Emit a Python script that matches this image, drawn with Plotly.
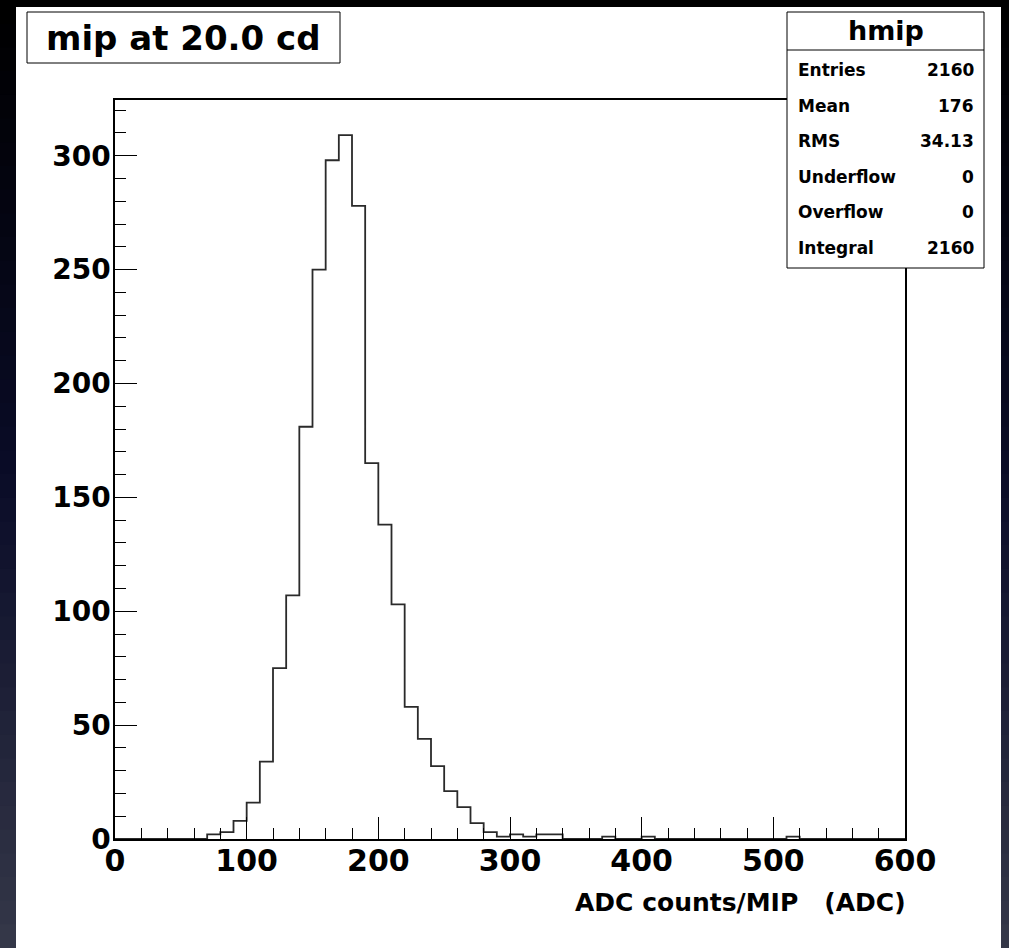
import plotly.graph_objects as go

# ---- data ----
bin_edges = list(range(0, 610, 10))  # 60 bins of width 10 from 0 to 600
counts = [0]*60
nonzero = {
    70: 2, 80: 3, 90: 8, 100: 16, 110: 34, 120: 75, 130: 107, 140: 181,
    150: 250, 160: 298, 170: 309, 180: 278, 190: 165, 200: 138, 210: 103,
    220: 58, 230: 44, 240: 32, 250: 21, 260: 14, 270: 7, 280: 3, 290: 1,
    300: 2, 310: 1, 320: 2, 330: 2, 370: 1, 400: 1, 510: 1,
}
for lo, c in nonzero.items():
    counts[lo // 10] = c

title_text = "mip at 20.0 cd"
stats_title = "hmip"
stats_labels = ["Entries", "Mean", "RMS", "Underflow", "Overflow", "Integral"]
stats_values = ["2160", "176", "34.13", "0", "0", "2160"]
x_title = "ADC counts/MIP   (ADC)"
x_ticks = [0, 100, 200, 300, 400, 500, 600]
y_ticks = [0, 50, 100, 150, 200, 250, 300]

# ---- geometry ----
W, H = 1009, 948
L, R, T, B = 115, 905, 100, 839
FONT = "DejaVu Sans"

def px(xp):
    return (xp - L) / (R - L)

def py(yp):
    return (B - yp) / (B - T)

xs = bin_edges
ys = counts + [counts[-1]]

fig = go.Figure()
fig.add_trace(go.Scatter(
    x=xs, y=ys, mode="lines", line=dict(shape="hv", color="#2a2a2a", width=1.8),
    hoverinfo="skip", showlegend=False,
))

shapes = []
# dark gradient background
top = (0, 0, 0)
mid = (10, 12, 40)
bot = (52, 55, 72)
n = 40
for i in range(n):
    t = i / (n - 1)
    if t < 0.5:
        a, b, f = top, mid, t / 0.5
    else:
        a, b, f = mid, bot, (t - 0.5) / 0.5
    col = tuple(int(a[k] + (b[k] - a[k]) * f) for k in range(3))
    y0 = i * H / n
    y1 = (i + 1) * H / n + 1
    shapes.append(dict(type="rect", xref="paper", yref="paper",
                       x0=px(0), x1=px(W), y0=py(y1), y1=py(y0),
                       fillcolor="rgb(%d,%d,%d)" % col, line=dict(width=0), layer="below"))
# white canvas
shapes.append(dict(type="rect", xref="paper", yref="paper",
                   x0=px(16), x1=px(1001), y0=py(H + 2), y1=py(7),
                   fillcolor="white", line=dict(width=0), layer="below"))
# title box
shapes.append(dict(type="rect", xref="paper", yref="paper",
                   x0=px(27), x1=px(340), y0=py(63), y1=py(12),
                   fillcolor="white", line=dict(color="black", width=1)))
# stats box
shapes.append(dict(type="rect", xref="paper", yref="paper",
                   x0=px(787), x1=px(984), y0=py(268), y1=py(12),
                   fillcolor="white", line=dict(color="black", width=1)))
shapes.append(dict(type="line", xref="paper", yref="paper",
                   x0=px(787), x1=px(984), y0=py(50), y1=py(50),
                   line=dict(color="black", width=1)))

annotations = []
annotations.append(dict(text="<b>%s</b>" % title_text, xref="paper", yref="paper",
                        x=px(183.5), y=py(37.5), xanchor="center", yanchor="middle",
                        showarrow=False, font=dict(family=FONT, size=34, color="black")))
annotations.append(dict(text="<b>%s</b>" % stats_title, xref="paper", yref="paper",
                        x=px(885.5), y=py(31), xanchor="center", yanchor="middle",
                        showarrow=False, font=dict(family=FONT, size=27, color="black")))
for i, (lab, val) in enumerate(zip(stats_labels, stats_values)):
    yc = 70 + 35.6 * i
    annotations.append(dict(text="<b>%s</b>" % lab, xref="paper", yref="paper",
                            x=px(796), y=py(yc), xanchor="left", yanchor="middle",
                            showarrow=False, font=dict(family=FONT, size=17, color="black")))
    annotations.append(dict(text="<b>%s</b>" % val, xref="paper", yref="paper",
                            x=px(976), y=py(yc), xanchor="right", yanchor="middle",
                            showarrow=False, font=dict(family=FONT, size=17, color="black")))
annotations.append(dict(text="<b>%s</b>" % x_title, xref="paper", yref="paper",
                        x=px(908), y=py(902), xanchor="right", yanchor="middle",
                        showarrow=False, font=dict(family=FONT, size=25, color="black")))

fig.update_layout(
    width=W, height=H,
    margin=dict(l=L, r=W - R, t=T, b=H - B),
    paper_bgcolor="black",
    plot_bgcolor="rgba(0,0,0,0)",
    shapes=shapes,
    annotations=annotations,
    showlegend=False,
)
fig.update_xaxes(
    range=[0, 600], tickvals=x_ticks, ticktext=["<b>%d</b>" % v for v in x_ticks],
    ticks="inside", ticklen=22, tickwidth=1, tickcolor="black",
    minor=dict(ticks="inside", ticklen=11, dtick=20, tickcolor="black", tickwidth=1),
    showline=True, linecolor="black", linewidth=1.5, mirror=True,
    showgrid=False, zeroline=False, ticklabelstandoff=-6,
    tickfont=dict(family=FONT, size=30, color="black"),
)
fig.update_yaxes(
    range=[0, 324.45], tickvals=y_ticks, ticktext=["<b>%d</b>" % v for v in y_ticks],
    ticks="inside", ticklen=22, tickwidth=1, tickcolor="black",
    minor=dict(ticks="inside", ticklen=11, dtick=10, tickcolor="black", tickwidth=1),
    showline=True, linecolor="black", linewidth=1.5, mirror=True,
    showgrid=False, zeroline=False, ticklabelstandoff=-3,
    tickfont=dict(family=FONT, size=28, color="black"),
)

fig.write_html(
    "out.html",
    config={"displayModeBar": False},
    post_script="document.body.style.margin='0';document.body.style.background='black';"
                "document.body.style.overflow='hidden';",
)
